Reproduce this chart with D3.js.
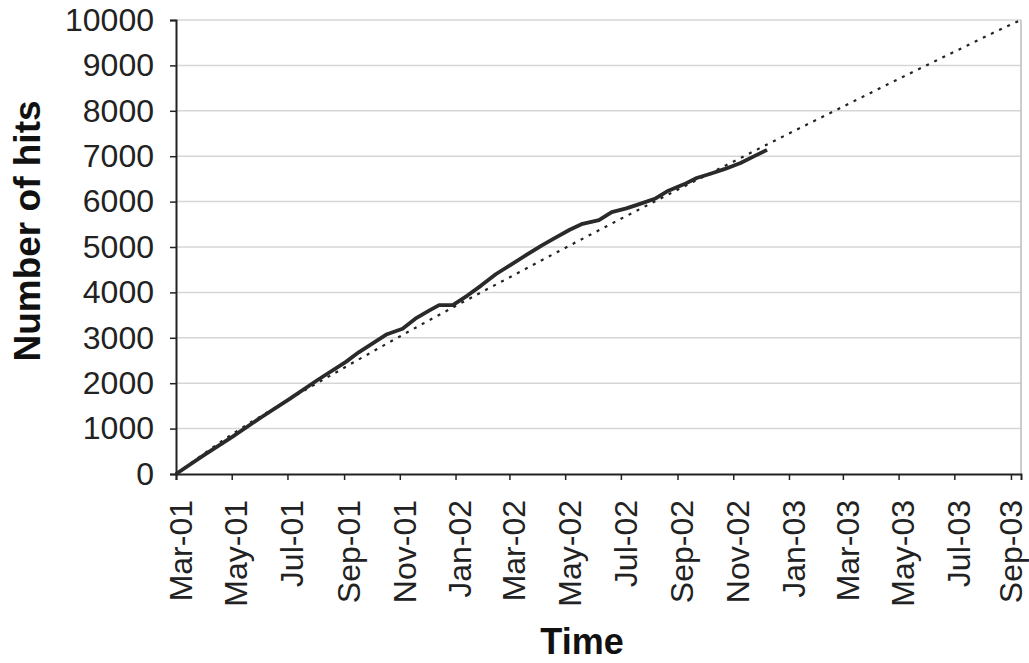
<!DOCTYPE html>
<html>
<head>
<meta charset="utf-8">
<script src="https://cdn.jsdelivr.net/npm/d3@7"></script>
<style>
  html, body { margin: 0; padding: 0; background: #fff; }
  svg { display: block; }
  text { font-family: "Liberation Sans", Arial, sans-serif; }
</style>
</head>
<body>
<svg id="chart" width="1029" height="663"></svg>
<script>
// ---- data ----
const hitDates = [
  "2001-03-01","2001-04-01","2001-05-02","2001-06-02","2001-07-03","2001-08-03",
  "2001-09-03","2001-09-17","2001-10-04","2001-10-18","2001-11-04","2001-11-18",
  "2001-12-04","2001-12-14","2001-12-29","2002-01-14","2002-01-29","2002-02-14",
  "2002-03-02","2002-03-20","2002-04-06","2002-04-20","2002-05-06","2002-05-20",
  "2002-06-07","2002-06-21","2002-07-07","2002-07-22","2002-08-08","2002-08-22",
  "2002-09-08","2002-09-22","2002-10-08","2002-10-23","2002-11-09","2002-11-23",
  "2002-12-08"
];
const hitValues = [
  0, 420, 825, 1245, 1650, 2070,
  2470, 2680, 2900, 3080, 3200, 3420,
  3610, 3720, 3720, 3930, 4150, 4400,
  4600, 4830, 5040, 5200, 5380, 5510,
  5590, 5770, 5850, 5950, 6070, 6240,
  6380, 6520, 6620, 6720, 6850, 6990,
  7140
];
const trendDates = [
  "2001-03-01","2001-05-01","2001-07-01","2001-09-01","2001-11-01","2002-01-01",
  "2002-03-01","2002-05-01","2002-07-01","2002-09-01","2002-11-01","2003-01-01",
  "2003-03-01","2003-05-01","2003-07-01","2003-09-01","2003-09-12"
];
const trendValues = [
  0, 870, 1620, 2340, 3030, 3700,
  4330, 4980, 5620, 6260, 6880, 7500,
  8090, 8700, 9300, 9900, 10000
];
const xTickDates = [
  "2001-03-01","2001-05-01","2001-07-01","2001-09-01","2001-11-01","2002-01-01",
  "2002-03-01","2002-05-01","2002-07-01","2002-09-01","2002-11-01","2003-01-01",
  "2003-03-01","2003-05-01","2003-07-01","2003-09-01"
];
const yTickValues = [0,1000,2000,3000,4000,5000,6000,7000,8000,9000,10000];
const xTitle = "Time";
const yTitle = "Number of hits";

// ---- drawing ----
const parse = d3.timeParse("%Y-%m-%d");
const svg = d3.select("#chart");
const mLeft = 176, mRight = 1021, mTop = 20, mBottom = 474;

const x = d3.scaleTime()
  .domain([parse("2001-03-01"), parse("2003-09-12")])
  .range([mLeft, mRight]);
const y = d3.scaleLinear().domain([0, 10000]).range([mBottom, mTop]);

// gridlines
svg.append("g").selectAll("line").data(yTickValues.filter(v => v > 0)).join("line")
  .attr("x1", mLeft).attr("x2", mRight)
  .attr("y1", d => y(d)).attr("y2", d => y(d))
  .attr("stroke", "#d6d6d6").attr("stroke-width", 1.5);

// right border
svg.append("line").attr("x1", mRight).attr("x2", mRight).attr("y1", mTop).attr("y2", mBottom)
  .attr("stroke", "#bdbdbd").attr("stroke-width", 1.5);

// y axis
const yAxis = d3.axisLeft(y).tickValues(yTickValues).tickSize(6).tickPadding(16)
  .tickFormat(d3.format("d"));
const gy = svg.append("g").attr("transform", `translate(${mLeft},0)`).call(yAxis);
gy.select(".domain").attr("stroke", "#222").attr("stroke-width", 2);
gy.selectAll(".tick line").attr("stroke", "#222").attr("stroke-width", 1.5);
gy.selectAll(".tick text").attr("font-size", 32).attr("fill", "#222")
  .attr("font-family", "Liberation Sans, Arial, sans-serif");

// x axis
const fmt = d3.timeFormat("%b-%y");
const xAxis = d3.axisBottom(x).tickValues(xTickDates.map(parse)).tickSize(6).tickFormat(fmt);
const gx = svg.append("g").attr("transform", `translate(0,${mBottom})`).call(xAxis);
gx.select(".domain").attr("stroke", "#222").attr("stroke-width", 2);
gx.selectAll(".tick line").attr("stroke", "#222").attr("stroke-width", 1.5);
const nTicks = xTickDates.length;
gx.selectAll(".tick text")
  .attr("font-size", 32).attr("fill", "#222")
  .attr("font-family", "Liberation Sans, Arial, sans-serif")
  .attr("text-anchor", "end")
  .attr("transform", (d, i) => `translate(${i === nTicks - 1 ? -1 : 4},26) rotate(-90)`)
  .attr("x", 0).attr("y", 0).attr("dy", "0.35em");

// trend line (dotted)
const trend = trendDates.map((d, i) => ({ date: parse(d), v: trendValues[i] }));
svg.append("path").datum(trend)
  .attr("fill", "none").attr("stroke", "#222").attr("stroke-width", 2.2)
  .attr("stroke-dasharray", "3,6")
  .attr("d", d3.line().x(d => x(d.date)).y(d => y(d.v)).curve(d3.curveMonotoneX));

// data line
const hits = hitDates.map((d, i) => ({ date: parse(d), v: hitValues[i] }));
svg.append("path").datum(hits)
  .attr("fill", "none").attr("stroke", "#2a2a2a").attr("stroke-width", 3.8)
  .attr("stroke-linejoin", "round")
  .attr("d", d3.line().x(d => x(d.date)).y(d => y(d.v)));

// titles
svg.append("text").attr("x", 582).attr("y", 654).attr("text-anchor", "middle")
  .attr("font-size", 36).attr("font-weight", "bold").attr("fill", "#111").text(xTitle);
svg.append("text").attr("transform", "translate(40,231) rotate(-90)")
  .attr("text-anchor", "middle")
  .attr("font-size", 37).attr("font-weight", "bold").attr("fill", "#111").text(yTitle);
</script>
</body>
</html>
